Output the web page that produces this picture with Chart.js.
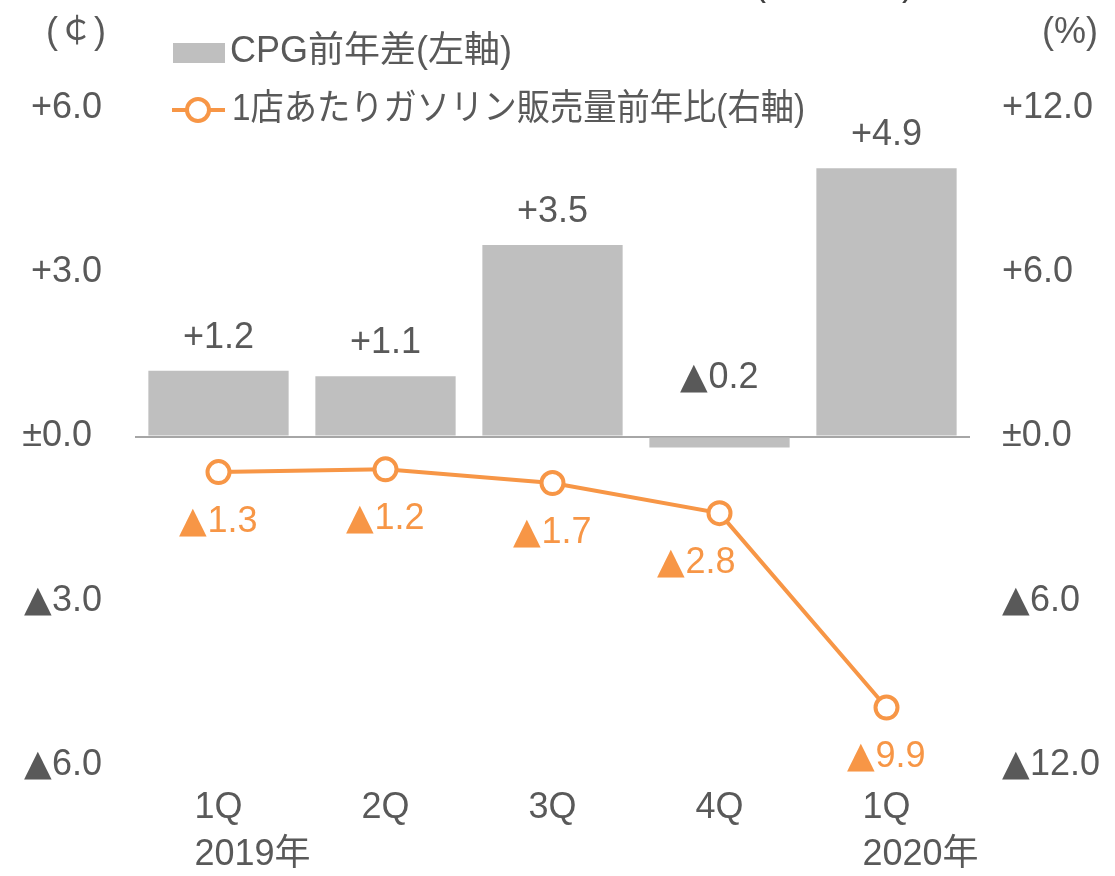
<!DOCTYPE html>
<html>
<head>
<meta charset="utf-8">
<script src="https://cdn.jsdelivr.net/npm/chart.js@4"></script>
<style>
  @font-face {
    font-family: "Tri";
    src: local("DejaVu Sans");
    unicode-range: U+25B2;
  }
  body { margin: 0; background: #fff; }
  canvas { display: block; }
</style>
</head>
<body>
<canvas id="chart" width="1115" height="876"></canvas>
<script>
const quarters = ["1Q", "2Q", "3Q", "4Q", "1Q"];
const years = ["2019年", "", "", "", "2020年"];
const cpgDiff = [1.2, 1.1, 3.5, -0.2, 4.9];          // 左軸 (¢)
const salesYoY = [-1.3, -1.2, -1.7, -2.8, -9.9];     // 右軸 (%)
const seriesNames = ["CPG前年差(左軸)", "1店あたりガソリン販売量前年比(右軸)"];

const GRAY_BAR = "#bfbfbf";
const TEXT = "#595959";
const ORANGE = "#f79646";
const FAMILY = "Tri, 'Liberation Sans', 'Noto Sans CJK JP', sans-serif";
const SIZE = 36;
const FONT = SIZE + "px " + FAMILY;

const lineLabelDx = [0, 0, 0, -23, 0];

const fmt = v => v > 0 ? "+" + v.toFixed(1) : v < 0 ? "▲" + Math.abs(v).toFixed(1) : "±0.0";

const extras = {
  id: "extras",
  afterDatasetsDraw(chart) {
    const ctx = chart.ctx;
    const y0 = chart.scales.y.getPixelForValue(0);
    ctx.save();
    ctx.font = FONT;
    ctx.textAlign = "center";
    ctx.textBaseline = "middle";
    chart.getDatasetMeta(0).data.forEach((bar, i) => {
      const v = cpgDiff[i];
      ctx.fillStyle = TEXT;
      ctx.fillText(fmt(v), bar.x, v >= 0 ? bar.y - 33 : y0 - 58);
    });
    chart.getDatasetMeta(1).data.forEach((pt, i) => {
      ctx.fillStyle = ORANGE;
      ctx.fillText(fmt(salesYoY[i]), pt.x + lineLabelDx[i], pt.y + 50);
    });
    ctx.restore();
  },
  afterDraw(chart) {
    const ctx = chart.ctx;
    const xs = chart.scales.x;
    ctx.save();
    ctx.font = FONT;
    ctx.textBaseline = "middle";
    ctx.fillStyle = TEXT;
    // year line under the quarter labels, starting where the quarter text starts
    ctx.textAlign = "left";
    years.forEach((yr, i) => {
      if (!yr) return;
      const x = xs.getPixelForTick(i) - ctx.measureText(quarters[i]).width / 2;
      ctx.fillText(yr, x, chart.chartArea.bottom + 90);
    });
    ctx.textAlign = "center";
    ctx.fillText("(￠)", 76, 33);
    ctx.fillText("(%)", 1070, 33);
    // clipped heading above the plot
    ctx.fillStyle = "#404040";
    ctx.textBaseline = "alphabetic";
    ctx.fillText("(", 760, -5);
    ctx.fillText(")", 908, -5);
    // legend
    ctx.textBaseline = "middle";
    ctx.textAlign = "left";
    ctx.fillStyle = GRAY_BAR;
    ctx.fillRect(173, 43, 52, 20);
    ctx.fillStyle = TEXT;
    ctx.fillText(seriesNames[0], 230, 52, 290);
    ctx.strokeStyle = ORANGE;
    ctx.lineWidth = 4;
    ctx.beginPath();
    ctx.moveTo(172, 110);
    ctx.lineTo(225, 110);
    ctx.stroke();
    ctx.beginPath();
    ctx.arc(198, 110, 11, 0, Math.PI * 2);
    ctx.fillStyle = "#fff";
    ctx.fill();
    ctx.stroke();
    ctx.fillStyle = TEXT;
    ctx.fillText(seriesNames[1], 232, 110, 573);
    ctx.restore();
  }
};

function draw() {
  new Chart(document.getElementById("chart"), {
    type: "bar",
    data: {
      labels: quarters,
      datasets: [
        {
          label: seriesNames[0],
          data: cpgDiff,
          backgroundColor: GRAY_BAR,
          barPercentage: 0.84,
          categoryPercentage: 1.0,
          yAxisID: "y",
          order: 2
        },
        {
          type: "line",
          label: seriesNames[1],
          data: salesYoY,
          borderColor: ORANGE,
          borderWidth: 4,
          pointRadius: 11,
          pointBorderWidth: 4,
          pointBackgroundColor: "#fff",
          pointBorderColor: ORANGE,
          tension: 0,
          yAxisID: "y2",
          order: 1
        }
      ]
    },
    options: {
      responsive: false,
      animation: false,
      layout: { padding: { top: 108, left: 0, right: 0, bottom: 0 } },
      plugins: {
        legend: { display: false },
        tooltip: { enabled: false }
      },
      scales: {
        x: {
          grid: { display: false, drawTicks: false },
          border: { display: false },
          ticks: {
            color: TEXT,
            font: { family: FAMILY, size: SIZE, lineHeight: 1.35 },
            padding: 19,
            maxRotation: 0,
            autoSkip: false
          },
          afterFit: s => { s.height = 111; }
        },
        y: {
          position: "left",
          min: -6, max: 6,
          grid: {
            drawTicks: false,
            lineWidth: 2,
            color: c => c.tick && c.tick.value === 0 ? "#a6a6a6" : "rgba(0,0,0,0)"
          },
          border: { display: false },
          ticks: {
            stepSize: 3,
            color: TEXT,
            padding: 33,
            font: { family: FAMILY, size: SIZE },
            callback: v => v === 0 ? "±0.0 " : fmt(v)
          },
          afterFit: s => { s.width = 135; }
        },
        y2: {
          position: "right",
          min: -12, max: 12,
          grid: { display: false, drawTicks: false },
          border: { display: false },
          ticks: {
            stepSize: 6,
            color: TEXT,
            padding: 32,
            font: { family: FAMILY, size: SIZE },
            callback: v => fmt(v)
          },
          afterFit: s => { s.width = 145; }
        }
      }
    },
    plugins: [extras]
  });
}

document.fonts.load(FONT, "▲").then(draw, draw);
</script>
</body>
</html>
